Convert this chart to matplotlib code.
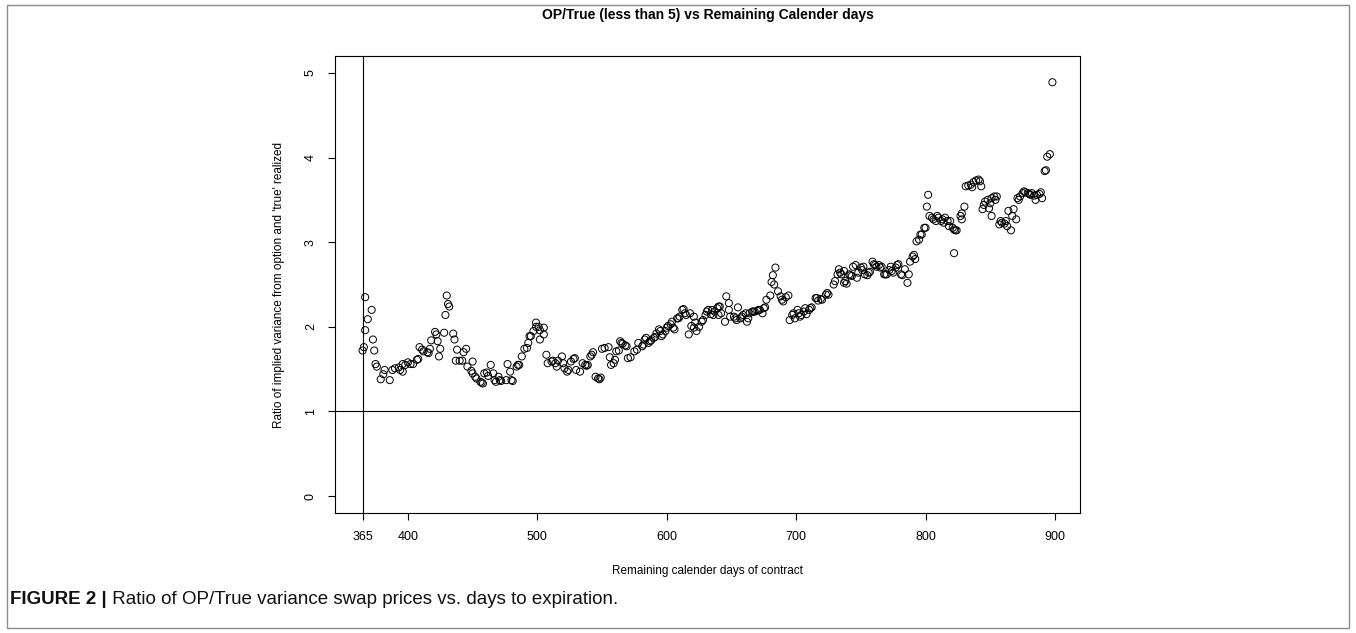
import matplotlib
matplotlib.use("Agg")
import matplotlib.pyplot as plt
from matplotlib.patches import Rectangle
import numpy as np

plt.rcParams['font.family'] = ['Liberation Sans', 'DejaVu Sans']

title = "OP/True (less than 5) vs Remaining Calender days"
xlabel = "Remaining calender days of contract"
ylabel = "Ratio of implied variance from option and 'true' realized"
caption_bold = "FIGURE 2 |"
caption_text = " Ratio of OP/True variance swap prices vs. days to expiration."
xticks = [365, 400, 500, 600, 700, 800, 900]
yticks = [0, 1, 2, 3, 4, 5]

days = [
    365, 366, 367, 367, 369, 372, 373, 374, 375, 376, 379, 381, 382, 386, 388, 390,
    393, 394, 396, 396, 398, 400, 402, 404, 407, 408, 409, 411, 412, 415, 416, 417,
    418, 421, 422, 423, 425, 424, 428, 429, 430, 431, 432, 435, 436, 438, 437, 440,
    442, 443, 445, 446,
    450, 449, 450, 452, 453, 456, 457, 458, 459, 461, 462, 464, 466, 467, 468, 470,
    471, 472, 476, 477, 479, 480, 481, 484, 485, 486, 488, 490, 492, 493, 494, 495,
    497, 499, 499, 501, 502, 502, 505, 505, 507, 508, 511, 512, 514, 515, 516, 519,
    520, 521, 523, 524, 526, 528, 529, 530, 533, 535,
    537, 538, 539, 541, 542, 543, 545, 547, 548, 549, 550, 552, 555, 556, 557, 559,
    560, 561, 563, 564, 565, 566, 568, 569, 570, 572, 575, 577, 578, 581, 582, 583,
    584, 586, 587, 588, 590, 591, 592, 594, 595, 596, 597, 599, 600, 601, 603, 604,
    605, 606, 608, 609, 610, 612, 613, 614, 615, 617, 618, 619, 621, 621, 622, 623,
    625, 627, 628, 630, 631, 632, 634, 635, 636, 637, 639, 640, 641, 640, 642, 645,
    646, 648, 648, 649, 652, 653, 654, 655, 657, 658, 659, 661, 662, 663, 664, 666,
    667, 668, 670, 671, 672, 674, 675, 676, 677, 680, 681, 682, 684, 683, 686, 688,
    689, 690, 692, 694, 695, 697, 698, 699, 701, 702, 703, 704, 706, 707, 708, 710,
    711, 712, 715,
    716, 717, 719, 720, 723, 724, 725, 729, 730, 732, 733, 734, 735, 737, 737, 738,
    739, 741, 742, 743, 744, 746, 747, 748, 750, 751, 752, 753, 755, 756, 757, 759,
    760, 761, 762, 764, 765, 766, 768, 769, 770, 772, 773, 774, 775, 777, 778, 779,
    781, 782, 784, 786, 787, 788, 790, 791, 792, 793, 795, 796, 797, 799, 800, 801,
    802,
    803, 805, 806, 808, 809, 810, 812, 813, 814, 815, 817, 818, 819, 821, 822, 823,
    824, 822, 827, 828, 830, 828, 831, 833, 835, 836, 837, 839, 841, 842, 843, 844,
    845, 846, 848, 849, 850, 851, 853, 854, 855, 851, 857, 858, 859, 861, 862, 863,
    864, 866, 867, 868, 870, 871, 872, 873, 875, 876, 877, 879, 880, 881, 882, 884,
    885, 886, 888, 889, 890, 892, 893, 894, 896, 898,
]
ratio = [
    1.72, 1.76, 1.96, 2.35, 2.09, 2.20, 1.85, 1.72, 1.56, 1.53, 1.38, 1.44, 1.49, 1.37, 1.49, 1.51,
    1.52, 1.49, 1.47, 1.56, 1.55, 1.58, 1.56, 1.56, 1.61, 1.62, 1.76, 1.73, 1.71, 1.70, 1.69, 1.74,
    1.84, 1.94, 1.91, 1.83, 1.74, 1.65, 1.93, 2.14, 2.37, 2.27, 2.24, 1.92, 1.85, 1.73, 1.60, 1.60,
    1.60, 1.70, 1.74, 1.53,
    1.59, 1.48, 1.45, 1.41, 1.39, 1.35, 1.34, 1.33, 1.45, 1.46, 1.42, 1.55, 1.45, 1.37, 1.35, 1.41,
    1.37, 1.36, 1.37, 1.56, 1.47, 1.37, 1.36, 1.53, 1.55, 1.55, 1.65, 1.74, 1.75, 1.81, 1.89, 1.89,
    1.95, 2.05, 2.00, 2.00, 1.96, 1.85, 1.99, 1.91, 1.67, 1.57, 1.59, 1.60, 1.57, 1.53, 1.60, 1.65,
    1.57, 1.51, 1.47, 1.49, 1.59, 1.62, 1.63, 1.49, 1.47, 1.57,
    1.55, 1.54, 1.55, 1.65, 1.67, 1.70, 1.41, 1.39, 1.38, 1.40, 1.74, 1.75, 1.76, 1.64, 1.55, 1.57,
    1.61, 1.71, 1.72, 1.83, 1.81, 1.80, 1.78, 1.77, 1.63, 1.64, 1.71, 1.73, 1.81, 1.77, 1.79, 1.85,
    1.87, 1.81, 1.83, 1.84, 1.87, 1.88, 1.92, 1.97, 1.95, 1.89, 1.91, 1.95, 1.99, 2.01, 2.03, 2.06,
    1.99, 1.97, 2.10, 2.10, 2.12, 2.20, 2.21, 2.16, 2.14, 1.91, 2.16, 2.01, 2.12, 1.99, 2.05, 1.95,
    2.00, 2.06, 2.08, 2.14, 2.18, 2.20, 2.15, 2.20, 2.14, 2.18, 2.22, 2.24, 2.24, 2.14, 2.16, 2.06,
    2.36, 2.28, 2.20, 2.12, 2.12, 2.10, 2.08, 2.23, 2.10, 2.12, 2.14, 2.16, 2.06, 2.10, 2.16, 2.18,
    2.18, 2.18, 2.19, 2.20, 2.20, 2.16, 2.22, 2.23, 2.32, 2.37, 2.53, 2.61, 2.70, 2.50, 2.42, 2.36,
    2.32, 2.30, 2.35, 2.37, 2.08, 2.14, 2.16, 2.10, 2.20, 2.16, 2.12, 2.14, 2.18, 2.22, 2.15, 2.20,
    2.22, 2.23, 2.34,
    2.34, 2.31, 2.33, 2.32, 2.38, 2.40, 2.38, 2.50, 2.54, 2.62, 2.68, 2.64, 2.62, 2.66, 2.52, 2.54,
    2.51, 2.62, 2.61, 2.60, 2.71, 2.73, 2.58, 2.64, 2.70, 2.67, 2.71, 2.62, 2.61, 2.64, 2.65, 2.77,
    2.74, 2.73, 2.71, 2.73, 2.70, 2.71, 2.62, 2.62, 2.62, 2.67, 2.71, 2.66, 2.64, 2.70, 2.73, 2.74,
    2.62, 2.61, 2.68, 2.52, 2.62, 2.77, 2.83, 2.85, 2.80, 3.01, 3.03, 3.09, 3.09, 3.17, 3.17, 3.42,
    3.56,
    3.31, 3.29, 3.27, 3.25, 3.31, 3.29, 3.25, 3.27, 3.23, 3.29, 3.25, 3.19, 3.25, 3.17, 3.15, 3.14,
    3.14, 2.87, 3.31, 3.34, 3.42, 3.27, 3.66, 3.67, 3.68, 3.65, 3.71, 3.73, 3.74, 3.72, 3.66, 3.39,
    3.44, 3.48, 3.50, 3.40, 3.46, 3.52, 3.54, 3.50, 3.54, 3.31, 3.21, 3.25, 3.23, 3.22, 3.25, 3.19,
    3.37, 3.14, 3.31, 3.39, 3.27, 3.52, 3.50, 3.54, 3.58, 3.60, 3.59, 3.58, 3.57, 3.56, 3.58, 3.55,
    3.50, 3.56, 3.57, 3.59, 3.52, 3.84, 3.85, 4.01, 4.04, 4.89,
]

W, H = 1356, 633
fig = plt.figure(figsize=(W / 100, H / 100), dpi=100)

# outer frame
fig.patches.append(Rectangle((7 / W, 1 - 628 / H), (1349 - 7) / W, (628 - 5) / H,
                             transform=fig.transFigure, fill=False,
                             edgecolor='#8c8c8c', lw=1.0))

left, right, top, bottom = 335, 1080, 56, 513
ax = fig.add_axes([left / W, 1 - bottom / H, (right - left) / W, (bottom - top) / H])

ax.scatter(days, ratio, s=26, facecolors='none', edgecolors='black', linewidths=0.7, zorder=3)
ax.axhline(1, color='black', lw=0.8)
ax.axvline(365, color='black', lw=0.8)

xmin, xmax = min(days), max(days)
pad = 0.04 * (xmax - xmin)
ax.set_xlim(xmin - pad, xmax + pad)
ax.set_ylim(-0.2, 5.2)

ax.set_xticks(xticks)
ax.set_yticks(yticks)
ax.set_xticklabels([str(t) for t in xticks])
ax.set_yticklabels([str(t) for t in yticks], rotation=90, va='center')
ax.tick_params(axis='both', direction='out', length=5, width=0.8, labelsize=9,
               colors='black')
ax.tick_params(axis='x', pad=8)
ax.tick_params(axis='y', pad=8)
for sp in ax.spines.values():
    sp.set_linewidth(0.8)
    sp.set_color('black')

ax.set_xlabel(xlabel, fontsize=8.5)
ax.xaxis.set_label_coords(0.5, (bottom - 565) / (bottom - top))
ax.set_ylabel(ylabel, fontsize=8.5)
ax.yaxis.set_label_coords((285 - left) / (right - left), 0.5)

fig.text(((left + right) / 2) / W, 1 - 15 / H, title, ha='center', va='center',
         fontsize=10, fontweight='bold')

t1 = fig.text(10 / W, 1 - 600 / H, caption_bold, ha='left', va='center',
              fontsize=13.5, fontweight='bold', color='#111111')
fig.canvas.draw()
bb = t1.get_window_extent(renderer=fig.canvas.get_renderer())
fig.text(bb.x1 / W, 1 - 600 / H, caption_text, ha='left', va='center',
         fontsize=13.5, color='#111111')

fig.savefig("out.png", dpi=100)
